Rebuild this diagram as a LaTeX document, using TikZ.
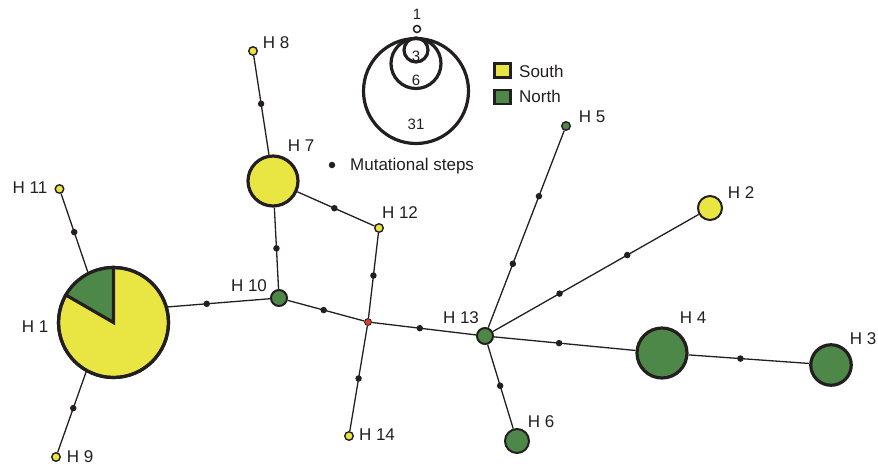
\documentclass[tikz,border=0pt]{standalone}
\usepackage{fontspec}
\setmainfont{Liberation Sans}
\definecolor{hapyellow}{HTML}{E9E643}
\definecolor{hapgreen}{HTML}{4E8849}
\definecolor{hapred}{HTML}{D7402A}
\definecolor{ink}{HTML}{231F20}
\pgfdeclarelayer{edges}
\pgfsetlayers{edges,main}
\begin{document}
\begin{tikzpicture}[x=1pt,y=-1pt,
  bighap/.style={circle,draw=ink,line width=3.2pt,inner sep=0pt,minimum size=#1},
  midhap/.style={circle,draw=ink,line width=2pt,inner sep=0pt,minimum size=#1},
  smallhap/.style={circle,draw=ink,line width=1.4pt,inner sep=0pt,minimum size=#1},
  sth/.style={fill=hapyellow},
  nth/.style={fill=hapgreen},
  link/.style={draw=ink,line width=1.3pt},
  mut/.style={circle,fill=ink,inner sep=0pt,minimum size=6.5pt},
  lbl/.style={font=\fontsize{17}{19}\selectfont,text=ink,inner sep=0pt},
  numlbl/.style={font=\fontsize{15}{17}\selectfont,text=ink,inner sep=0pt},
  sizering/.style={draw=ink,line width=3.2pt},
  keybox/.style={draw=ink,line width=2.8pt,inner sep=0pt,minimum width=16pt,minimum height=14pt}]
\useasboundingbox (0,0) rectangle (878,467);

% haplotypes
\node[bighap=110pt,sth] (h1) at (113.5,322.5) {};
\fill[hapgreen] (h1.center) -- (h1.90) arc[start angle=90,end angle=150,radius=55pt] -- cycle;
\draw[ink,line width=3.2pt] (h1.90) -- (h1.center) -- (h1.150);
\draw[ink,line width=3.2pt] (h1.center) circle[radius=55pt];

\node[bighap=50pt,sth]   (h7)  at (273,181) {};
\node[bighap=50pt,nth]   (h4)  at (662,353) {};
\node[bighap=40.5pt,nth] (h3)  at (831,365) {};
\node[midhap=24pt,sth]   (h2)  at (710,208) {};
\node[midhap=24pt,nth]   (h6)  at (517,441) {};
\node[midhap=16pt,nth]   (h10) at (279,298) {};
\node[midhap=16pt,nth]   (h13) at (485,336) {};
\node[smallhap=8.5pt,sth] (h8)  at (253,51) {};
\node[smallhap=8.5pt,sth] (h11) at (59.5,189) {};
\node[smallhap=8.5pt,sth] (h9)  at (56,457) {};
\node[smallhap=8.5pt,sth] (h12) at (379,228) {};
\node[smallhap=8.5pt,sth] (h14) at (349,436) {};
\node[smallhap=8.5pt,nth] (h5)  at (566,126) {};
\node[circle,draw=ink,line width=0.8pt,fill=hapred,inner sep=0pt,minimum size=7pt] (mv) at (368,322) {};

% labels
\node[lbl] (lh1)  at (35,327)  {H 1};
\node[lbl] (lh2)  at (741,193) {H 2};
\node[lbl] (lh3)  at (863,339) {H 3};
\node[lbl] (lh4)  at (693,318) {H 4};
\node[lbl] (lh5)  at (592,117) {H 5};
\node[lbl] (lh6)  at (541,422) {H 6};
\node[lbl] (lh7)  at (301,146) {H 7};
\node[lbl] (lh8)  at (276,43)  {H 8};
\node[lbl] (lh9)  at (80,457)  {H 9};
\node[lbl] (lh10) at (249,286) {H 10};
\node[lbl] (lh11) at (30,188)  {H 11};
\node[lbl] (lh12) at (400,213) {H 12};
\node[lbl] (lh13) at (461,318) {H 13};
\node[lbl] (lh14) at (377,435) {H 14};

% connections with mutational steps
\begin{pgfonlayer}{edges}
\path[link] (h11) -- node[mut,pos=0.49]{} (h1.117);
\path[link] (h9)  -- node[mut,pos=0.55]{} (h1.241);
\path[link] (h1.16) -- node[mut,pos=0.38]{} (h10);
\path[link] (h7)  -- node[mut,pos=0.5]{}  (h10);
\path[link] (h8)  -- node[mut,pos=0.485]{} (h7);
\path[link] (h7)  -- node[mut,pos=0.48]{} (h12);
\path[link] (h10) -- node[mut,pos=0.47]{} (mv);
\path[link] (h12) -- node[mut,pos=0.5]{}  (mv);
\path[link] (mv)  -- node[mut,pos=0.5]{}  (h14);
\path[link] (mv)  -- node[mut,pos=0.46]{} (h13);
\path[link] (h13) -- node[mut,pos=0.49]{} (h6);
\path[link] (h13) -- node[mut,pos=0.324]{} node[mut,pos=0.667]{} (h5);
\path[link] (h13) -- node[mut,pos=0.324]{} node[mut,pos=0.653]{} (h2);
\path[link] (h13) -- node[mut,pos=0.46]{} (h4);
\path[link] (h4)  -- node[mut,pos=0.43]{} (h3);
\end{pgfonlayer}

% size key
\node[circle,draw=ink,line width=1.5pt,inner sep=0pt,minimum size=7pt] (k1) at (417,29) {};
\draw[sizering] (416,50) circle[radius=12pt];
\draw[sizering] (416,63.5) circle[radius=25pt];
\draw[sizering] (416,91) circle[radius=52.5pt];
\node[numlbl] (n1)  at (417,14.5) {1};
\node[numlbl] (n3)  at (416,56.5) {3};
\node[numlbl] (n6)  at (416,80)   {6};
\node[numlbl] (n31) at (416,124)  {31};

% mutational step key
\node[mut] (kmut) at (332,165) {};
\node[lbl,anchor=base west] (kmutl) at (350,170) {Mutational steps};

% region key
\node[keybox,fill=hapyellow] (ks) at (502.5,70.5) {};
\node[keybox,fill=hapgreen]  (kn) at (502.5,97)   {};
\node[lbl,anchor=base west] (ksl) at (519,77)  {South};
\node[lbl,anchor=base west] (knl) at (519,102) {North};
\end{tikzpicture}
\end{document}
